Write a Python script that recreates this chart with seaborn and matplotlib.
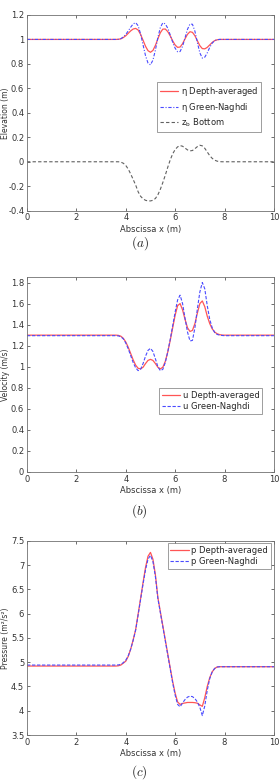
import pandas as pd
import seaborn as sns
import matplotlib
matplotlib.use("Agg")
from matplotlib import pyplot as plt
from matplotlib.ticker import FuncFormatter

# abscissa (m)
x = [0.0, 3.5, 3.6, 3.7, 3.8, 3.9,
     4.0, 4.1, 4.2, 4.3, 4.4, 4.5, 4.6, 4.7, 4.8, 4.9,
     5.0, 5.1, 5.2, 5.3, 5.4, 5.5, 5.6, 5.7, 5.8, 5.9,
     6.0, 6.1, 6.2, 6.3, 6.4, 6.5, 6.6, 6.7, 6.8, 6.9,
     7.0, 7.1, 7.2, 7.3, 7.4, 7.5, 7.6, 7.7, 7.8, 7.9,
     8.0, 10.0]

# (a) elevation
eta_da = [1.0, 1.0, 1.0, 1.001, 1.005, 1.015,
          1.03, 1.05, 1.07, 1.085, 1.09, 1.077, 1.041, 0.993, 0.944, 0.908,
          0.895, 0.91, 0.951, 1.005, 1.055, 1.084, 1.085, 1.064, 1.029, 0.988,
          0.954, 0.935, 0.938, 0.965, 1.005, 1.042, 1.063, 1.058, 1.03, 0.989,
          0.949, 0.925, 0.923, 0.935, 0.955, 0.975, 0.99, 0.997, 1.0, 1.0,
          1.0, 1.0]
eta_gn = [1.0, 1.0, 1.0, 1.001, 1.006, 1.02,
          1.04, 1.07, 1.1, 1.127, 1.137, 1.112, 1.045, 0.955, 0.867, 0.807,
          0.792, 0.831, 0.913, 1.015, 1.097, 1.136, 1.127, 1.092, 1.037, 0.977,
          0.928, 0.899, 0.901, 0.944, 1.013, 1.083, 1.126, 1.124, 1.067, 0.975,
          0.89, 0.847, 0.855, 0.89, 0.935, 0.97, 0.99, 0.998, 1.0, 1.0,
          1.0, 1.0]
zb = [0.0, 0.0, 0.0, 0.0, -0.003, -0.012,
      -0.03, -0.06, -0.1, -0.145, -0.19, -0.245, -0.282, -0.303, -0.315, -0.32,
      -0.32, -0.315, -0.3, -0.27, -0.225, -0.17, -0.11, -0.045, 0.015, 0.065,
      0.1, 0.122, 0.132, 0.127, 0.112, 0.097, 0.089, 0.092, 0.107, 0.124,
      0.135, 0.13, 0.11, 0.08, 0.05, 0.028, 0.013, 0.005, 0.001, 0.0,
      0.0, 0.0]

# (b) velocity
u_da = [1.3, 1.3, 1.3, 1.298, 1.29, 1.27,
        1.235, 1.185, 1.125, 1.065, 1.015, 0.985, 0.98, 0.995, 1.03, 1.06,
        1.07, 1.06, 1.03, 0.995, 0.98, 0.995, 1.05, 1.14, 1.25, 1.37,
        1.49, 1.58, 1.6, 1.54, 1.45, 1.37, 1.335, 1.345, 1.41, 1.51,
        1.6, 1.625, 1.57, 1.48, 1.41, 1.36, 1.33, 1.313, 1.305, 1.301,
        1.3, 1.3]
u_gn = [1.295, 1.295, 1.295, 1.293, 1.285, 1.265,
        1.225, 1.17, 1.105, 1.04, 0.99, 0.963, 0.975, 1.03, 1.1, 1.155,
        1.175, 1.145, 1.075, 1.0, 0.963, 0.975, 1.04, 1.14, 1.26, 1.39,
        1.52, 1.635, 1.68, 1.6, 1.46, 1.33, 1.245, 1.25, 1.37, 1.55,
        1.71, 1.8, 1.74, 1.58, 1.45, 1.37, 1.325, 1.307, 1.3, 1.297,
        1.295, 1.295]

# (c) pressure
p_da = [4.92, 4.92, 4.92, 4.925, 4.94, 4.98,
        5.02, 5.12, 5.27, 5.46, 5.67, 5.99, 6.31, 6.64, 6.95, 7.18,
        7.26, 7.12, 6.8, 6.33, 6.04, 5.75, 5.46, 5.17, 4.88, 4.6,
        4.36, 4.18, 4.13, 4.15, 4.16, 4.17, 4.17, 4.17, 4.165, 4.155,
        4.12, 4.09, 4.27, 4.5, 4.68, 4.8, 4.87, 4.9, 4.906, 4.906,
        4.906, 4.906]
p_gn = [4.94, 4.94, 4.94, 4.943, 4.955, 4.99,
        5.04, 5.13, 5.27, 5.45, 5.66, 5.97, 6.29, 6.61, 6.9, 7.12,
        7.2, 7.07, 6.76, 6.31, 6.02, 5.73, 5.44, 5.15, 4.86, 4.57,
        4.32, 4.13, 4.08, 4.16, 4.23, 4.28, 4.3, 4.29, 4.25, 4.18,
        4.07, 3.9, 4.1, 4.42, 4.66, 4.8, 4.87, 4.9, 4.906, 4.906,
        4.906, 4.906]

df = pd.DataFrame({"x": x, "eta_da": eta_da, "eta_gn": eta_gn, "zb": zb,
                   "u_da": u_da, "u_gn": u_gn, "p_da": p_da, "p_gn": p_gn})

sns.set_style("ticks")
plt.rcParams['font.family'] = ['DejaVu Sans']
plt.rcParams['mathtext.fontset'] = 'cm'

RED = '#ff5555'
BLUE = '#4a4aff'
GRAY = '#606060'
AX = '#707070'

fig = plt.figure(figsize=(2.79, 7.83), dpi=100)
axes = [fig.add_axes([0.0968, 0.7309, 0.885, 0.25]),
        fig.add_axes([0.0968, 0.3972, 0.885, 0.2487]),
        fig.add_axes([0.0968, 0.0613, 0.885, 0.2481])]

fmt = FuncFormatter(lambda v, pos: '%g' % round(v, 2))


def style(ax, ylim, yticks, ylabel):
    ax.set_xlim(0, 10)
    ax.set_ylim(*ylim)
    ax.set_xticks([0, 2, 4, 6, 8, 10])
    ax.set_yticks(yticks)
    ax.yaxis.set_major_formatter(fmt)
    ax.xaxis.set_major_formatter(fmt)
    ax.tick_params(direction='in', length=2.5, width=0.5, labelsize=6,
                   colors='#333333', top=True, right=True, pad=2)
    for s in ax.spines.values():
        s.set_linewidth(0.6)
        s.set_color(AX)
        s.set_visible(True)
    ax.set_xlabel('Abscissa x (m)', fontsize=6, color='#333333', labelpad=1.5)
    ax.set_ylabel(ylabel, fontsize=5.5, color='#333333')
    ax.yaxis.set_label_coords(-0.068, 0.5)


leg_kw = dict(fontsize=6, fancybox=False, edgecolor='#777777', framealpha=1,
              handlelength=2.2, borderpad=0.35, labelspacing=0.3,
              handletextpad=0.3, borderaxespad=0)

ax = axes[0]
sns.lineplot(data=df, x="x", y="eta_da", ax=ax, color=RED, lw=0.9,
             label=r'$\mathregular{\eta}$ Depth-averaged')
sns.lineplot(data=df, x="x", y="eta_gn", ax=ax, color=BLUE, lw=0.8,
             linestyle=(0, (3, 1.5, 1, 1.5)), label=r'$\mathregular{\eta}$ Green-Naghdi')
sns.lineplot(data=df, x="x", y="zb", ax=ax, color=GRAY, lw=0.8,
             linestyle=(0, (3, 2)), label=r'z$_\mathregular{b}$ Bottom')
style(ax, (-0.4, 1.2), [-0.4, -0.2, 0, 0.2, 0.4, 0.6, 0.8, 1.0, 1.2],
      'Elevation (m)')
ax.legend(loc='upper left', bbox_to_anchor=(0.526, 0.655),
          **leg_kw).get_frame().set_linewidth(0.5)

ax = axes[1]
sns.lineplot(data=df, x="x", y="u_da", ax=ax, color=RED, lw=0.9,
             label='u Depth-averaged')
sns.lineplot(data=df, x="x", y="u_gn", ax=ax, color=BLUE, lw=0.8,
             linestyle=(0, (3, 1.5)), label='u Green-Naghdi')
style(ax, (0, 1.85), [0, 0.2, 0.4, 0.6, 0.8, 1.0, 1.2, 1.4, 1.6, 1.8],
      'Velocity (m/s)')
ax.legend(loc='upper left', bbox_to_anchor=(0.534, 0.433),
          **leg_kw).get_frame().set_linewidth(0.5)

ax = axes[2]
sns.lineplot(data=df, x="x", y="p_da", ax=ax, color=RED, lw=0.9,
             label='p Depth-averaged')
sns.lineplot(data=df, x="x", y="p_gn", ax=ax, color=BLUE, lw=0.8,
             linestyle=(0, (3, 1.5)), label='p Green-Naghdi')
style(ax, (3.5, 7.5), [3.5, 4, 4.5, 5, 5.5, 6, 6.5, 7, 7.5],
      'Pressure (m\u00b2/s\u00b2)')
ax.legend(loc='upper right', bbox_to_anchor=(0.988, 0.99),
          **leg_kw).get_frame().set_linewidth(0.5)

for lab, yy in [('(a)', 0.689), ('(b)', 0.347), ('(c)', 0.014)]:
    fig.text(0.5, yy, r'$\mathit{%s}$' % lab, ha='center', va='center',
             fontsize=9.5)

fig.savefig('out.png', dpi=100)
